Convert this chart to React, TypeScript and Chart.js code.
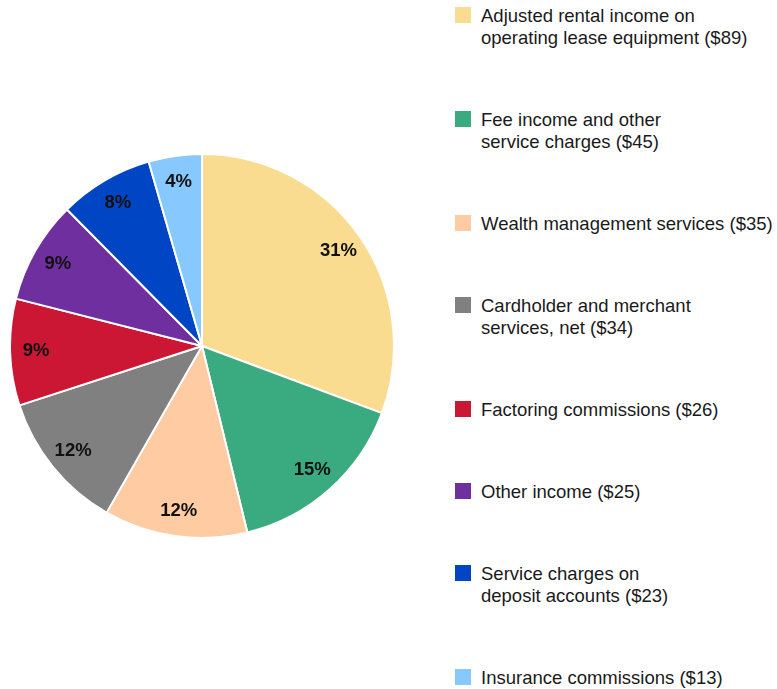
import React, { useEffect, useRef } from "react";
import { Chart, registerables } from "chart.js";

Chart.register(...registerables);

const categories: string[] = [
  "Adjusted rental income on\noperating lease equipment",
  "Fee income and other\nservice charges",
  "Wealth management services",
  "Cardholder and merchant\nservices, net",
  "Factoring commissions",
  "Other income",
  "Service charges on\ndeposit accounts",
  "Insurance commissions",
];

const values: number[] = [89, 45, 35, 34, 26, 25, 23, 13];

const percentLabels: string[] = ["31%", "15%", "12%", "12%", "9%", "9%", "8%", "4%"];

const colors: string[] = [
  "#FADC91",
  "#3AAB80",
  "#FECBA3",
  "#808080",
  "#CC1734",
  "#6F2F9F",
  "#0045C4",
  "#87C8FF",
];

const FONT = '"Liberation Sans", Arial, Helvetica, sans-serif';

const sliceLabelPlugin = {
  id: "sliceLabels",
  afterDatasetsDraw(chart: any) {
    const ctx = chart.ctx;
    const meta = chart.getDatasetMeta(0);
    ctx.save();
    ctx.font = `bold 18.5px ${FONT}`;
    ctx.fillStyle = "#111111";
    ctx.textAlign = "center";
    ctx.textBaseline = "middle";
    meta.data.forEach((arc: any, i: number) => {
      const p = arc.getProps(["x", "y", "startAngle", "endAngle", "outerRadius"], true);
      const mid = (p.startAngle + p.endAngle) / 2;
      const d = p.outerRadius * 0.865;
      ctx.fillText(percentLabels[i], p.x + Math.cos(mid) * d, p.y + Math.sin(mid) * d);
    });
    ctx.restore();
  },
};

export default function App() {
  const canvasRef = useRef<HTMLCanvasElement | null>(null);

  useEffect(() => {
    if (!canvasRef.current) return;
    const chart = new Chart(canvasRef.current, {
      type: "pie",
      data: {
        labels: categories.map((c) => c.replace("\n", " ")),
        datasets: [
          {
            data: values,
            backgroundColor: colors,
            borderColor: "#ffffff",
            borderWidth: 2,
          },
        ],
      },
      options: {
        responsive: false,
        animation: false,
        layout: { padding: 0 },
        plugins: {
          legend: { display: false },
          tooltip: { enabled: false },
        },
      },
      plugins: [sliceLabelPlugin],
    });
    return () => chart.destroy();
  }, []);

  return (
    <div
      style={{
        position: "fixed",
        left: 0,
        top: 0,
        width: 777,
        height: 689,
        background: "#ffffff",
        overflow: "hidden",
      }}
    >
      <canvas
        ref={canvasRef}
        width={386}
        height={386}
        style={{ position: "absolute", left: 9, top: 153, width: 386, height: 386 }}
      />
      <div
        style={{
          position: "absolute",
          left: 455,
          top: 4.6,
          fontFamily: FONT,
          fontSize: "18.5px",
          lineHeight: "22px",
          color: "#1a1a1a",
        }}
      >
        {categories.map((c, i) => (
          <div key={i} style={{ display: "flex", alignItems: "flex-start", marginBottom: 60 }}>
            <div
              style={{
                width: 16,
                height: 16,
                marginTop: 2.4,
                background: colors[i],
                flex: "0 0 auto",
              }}
            />
            <div style={{ marginLeft: 10, whiteSpace: "pre" }}>
              {`${c} ($${values[i]})`}
            </div>
          </div>
        ))}
      </div>
    </div>
  );
}
